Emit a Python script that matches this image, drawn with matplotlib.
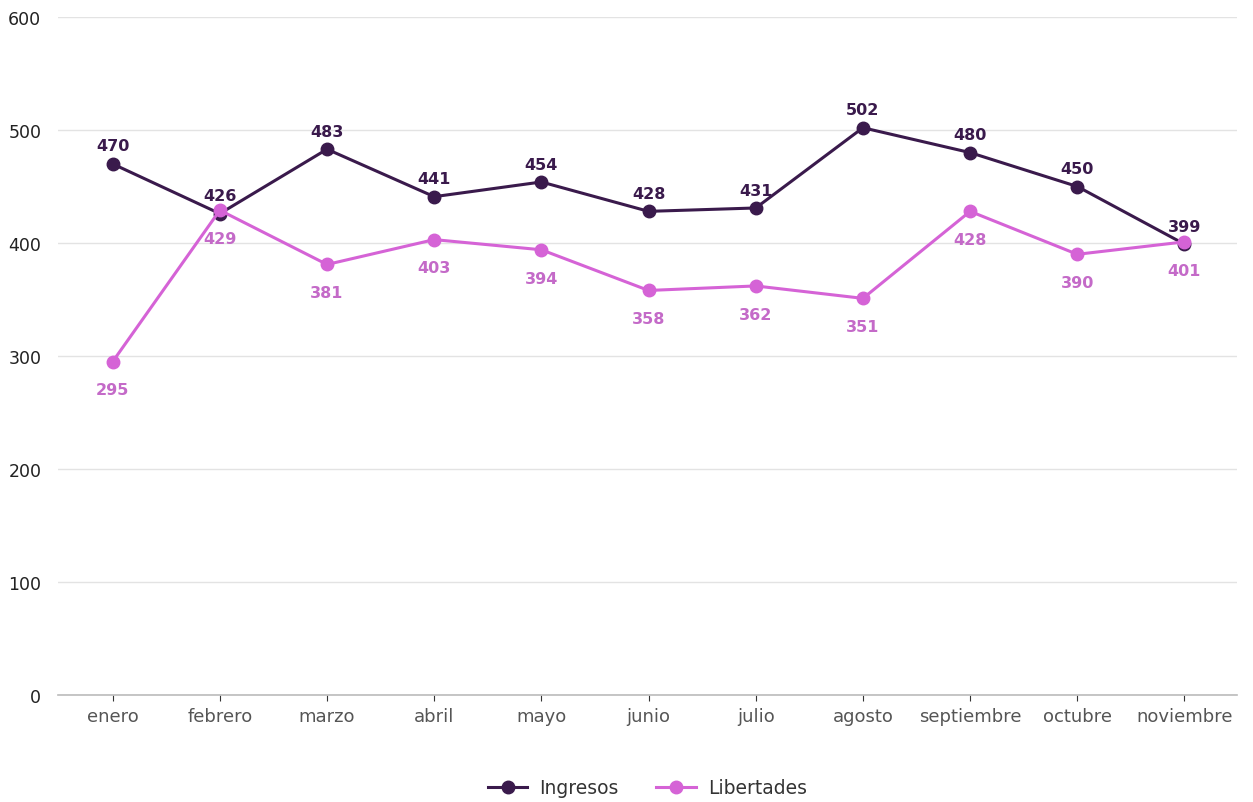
import matplotlib
matplotlib.use('Agg')
import matplotlib.pyplot as plt

meses = ['enero', 'febrero', 'marzo', 'abril', 'mayo', 'junio', 'julio',
         'agosto', 'septiembre', 'octubre', 'noviembre']
ingresos = [470, 426, 483, 441, 454, 428, 431, 502, 480, 450, 399]
libertades = [295, 429, 381, 403, 394, 358, 362, 351, 428, 390, 401]

c_ing = '#3a1a4c'
c_lib = '#d563d6'
c_lib_txt = '#c46ac8'

fig = plt.figure(figsize=(12.53, 8.03), dpi=100)
ax = fig.add_axes([58/1253, 1 - 696/803, (1237-58)/1253, (696-18)/803])

x = list(range(len(meses)))
ax.plot(x, ingresos, color=c_ing, lw=2.2, marker='o', ms=9, label='Ingresos', zorder=3)
ax.plot(x, libertades, color=c_lib, lw=2.2, marker='o', ms=9, label='Libertades', zorder=4)

for i, v in enumerate(ingresos):
    ax.annotate(str(v), (i, v), xytext=(0, 7.5), textcoords='offset points',
                ha='center', va='bottom', fontsize=11.5, fontweight='bold', color=c_ing)
for i, v in enumerate(libertades):
    ax.annotate(str(v), (i, v), xytext=(0, -15), textcoords='offset points',
                ha='center', va='top', fontsize=11.5, fontweight='bold', color=c_lib_txt)

ax.set_xlim(-0.51, 10.49)
ax.set_ylim(0, 600)
ax.set_yticks([0, 100, 200, 300, 400, 500, 600])
ax.set_xticks(x)
ax.set_xticklabels(meses, fontsize=13, color='#555555')
ax.tick_params(axis='y', length=0, labelsize=12.5, labelcolor='#222222', pad=12)
ax.tick_params(axis='x', length=4, color='#333333', pad=5)
ax.grid(axis='y', color='#e3e3e3', lw=1)
ax.set_axisbelow(True)
for s in ['top', 'right', 'left']:
    ax.spines[s].set_visible(False)
ax.spines['bottom'].set_color('#bbbbbb')
ax.spines['bottom'].set_linewidth(1.2)

# leyenda centrada bajo el eje
leg = ax.legend(loc='center', bbox_to_anchor=(647.5/1253, 1 - 789/803),
                bbox_transform=fig.transFigure, ncol=2, frameon=False,
                fontsize=13.5, handlelength=2.1, handletextpad=0.65, columnspacing=2.0)
for t in leg.get_texts():
    t.set_color('#333333')

fig.savefig('out.png', dpi=100)
